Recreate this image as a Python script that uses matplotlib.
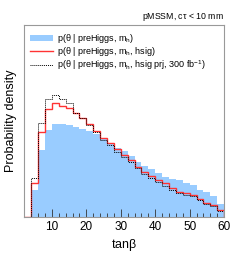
import matplotlib
matplotlib.use('Agg')
import matplotlib.pyplot as plt
import numpy as np

plt.rcParams['font.family'] = ['Liberation Sans', 'DejaVu Sans']
plt.rcParams['mathtext.fontset'] = 'custom'
plt.rcParams['mathtext.rm'] = 'Liberation Sans'
plt.rcParams['mathtext.it'] = 'Liberation Sans'

# tan(beta) binning: 2 .. 60, width 2
bin_edges = [2, 4, 6, 8, 10, 12, 14, 16, 18, 20, 22, 24, 26, 28, 30,
             32, 34, 36, 38, 40, 42, 44, 46, 48, 50, 52, 54, 56, 58, 60]

# p(theta | preHiggs, m_h)  (blue fill)
prior = [0.0, 0.0081, 0.0201, 0.0261, 0.0280, 0.0279, 0.0277, 0.0271, 0.0265,
         0.0257, 0.0249, 0.0235, 0.0219, 0.0207, 0.0199, 0.0183, 0.0165,
         0.0153, 0.0143, 0.0131, 0.0120, 0.0114, 0.0110, 0.0101, 0.0096,
         0.0081, 0.0074, 0.0063, 0.0039]

# p(theta | preHiggs, m_h, hsig)  (red)
hsig = [0.0, 0.0102, 0.0255, 0.0323, 0.0341, 0.0334, 0.0326, 0.0311, 0.0297,
        0.0278, 0.0259, 0.0237, 0.0223, 0.0203, 0.0186, 0.0170, 0.0150,
        0.0134, 0.0122, 0.0111, 0.0101, 0.0086, 0.0076, 0.0071, 0.0066,
        0.0053, 0.0043, 0.0035, 0.0021]

# p(theta | preHiggs, m_h, hsig prj, 300 fb-1)  (black dotted)
hsig_prj = [0.0, 0.0116, 0.0282, 0.0353, 0.0366, 0.0353, 0.0341, 0.0313,
            0.0296, 0.0276, 0.0256, 0.0231, 0.0216, 0.0196, 0.0181, 0.0166,
            0.0146, 0.0129, 0.0116, 0.0106, 0.0093, 0.0081, 0.0072, 0.0067,
            0.0062, 0.0050, 0.0040, 0.0032, 0.0019]

fig = plt.figure(figsize=(2.49, 2.57), dpi=100)
ax = fig.add_axes([0.098, 0.156, 0.802, 0.747])

ax.stairs(prior, bin_edges, fill=True, color='#99ccff', linewidth=0,
          label=r'p($\theta$ | preHiggs, m$_{h}$)')
ax.stairs(hsig, bin_edges, color='#ff3333', linewidth=1.0,
          label=r'p($\theta$ | preHiggs, m$_{h}$, hsig)')
ax.stairs(hsig_prj, bin_edges, color='black', linewidth=0.7,
          linestyle=(0, (1, 1)),
          label=r'p($\theta$ | preHiggs, m$_{h}$, hsig prj, 300 fb$^{-1}$)')

ax.set_xlim(2, 60)
ax.set_ylim(0, 0.0576)

ax.set_xticks([10, 20, 30, 40, 50, 60])
ax.set_xticks(np.arange(4, 60, 2), minor=True)
ax.tick_params(axis='x', which='major', direction='in', length=6, width=0.6,
               labelsize=8.5, pad=3, color='#333333')
ax.tick_params(axis='x', which='minor', direction='in', length=3,
               width=0.6, color='#333333')
ax.set_yticks([])

for sp in ax.spines.values():
    sp.set_color('#999999')
    sp.set_linewidth(0.8)

ax.set_xlabel(r'tan$\beta$', fontsize=9, labelpad=3)
ax.set_ylabel('Probability density', fontsize=9, labelpad=5)

ax.text(1.0, 1.01, r'pMSSM, c$\tau$ < 10 mm', transform=ax.transAxes,
        ha='right', va='bottom', fontsize=6.3)

ax.legend(loc='upper left', bbox_to_anchor=(-0.01, 1.0), frameon=False,
          fontsize=6.5, labelspacing=0.0, handlelength=2.6,
          handletextpad=0.4, borderaxespad=0.4)

fig.savefig('out.png', dpi=100)
